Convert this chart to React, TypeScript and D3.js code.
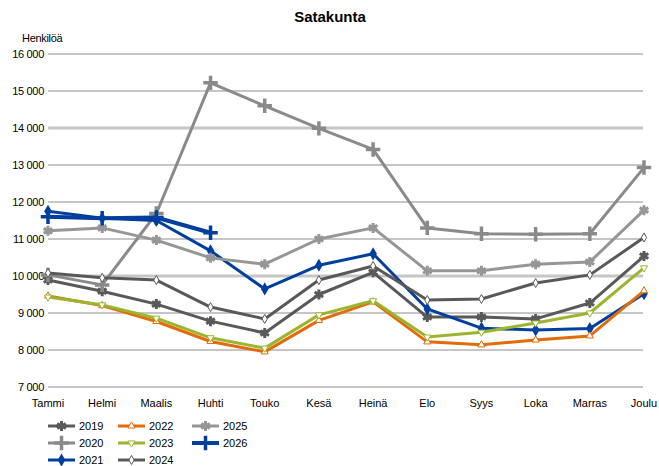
import React from "react";
import * as d3 from "d3";

const months = ["Tammi", "Helmi", "Maalis", "Huhti", "Touko", "Kesä", "Heinä", "Elo", "Syys", "Loka", "Marras", "Joulu"];
const yTicks = [7000, 8000, 9000, 10000, 11000, 12000, 13000, 14000, 15000, 16000];

const v2019 = [9890, 9590, 9240, 8780, 8460, 9500, 10100, 8890, 8890, 8840, 9270, 10540];
const v2020 = [10030, 9760, 11690, 15220, 14600, 13990, 13420, 11300, 11140, 11130, 11140, 12930];
const v2021 = [11750, 11560, 11500, 10680, 9650, 10290, 10600, 9110, 8590, 8540, 8580, 9520];
const v2022 = [9460, 9200, 8770, 8230, 7950, 8800, 9300, 8220, 8140, 8270, 8380, 9600];
const v2023 = [9430, 9220, 8860, 8330, 8050, 8950, 9330, 8350, 8480, 8730, 9000, 10220];
const v2024 = [10080, 9950, 9890, 9160, 8840, 9890, 10270, 9350, 9380, 9810, 10030, 11040];
const v2025 = [11220, 11300, 10970, 10490, 10320, 11000, 11300, 10140, 10140, 10320, 10380, 11780];
const v2026 = [11600, 11560, 11580, 11170];

type Series = {
  name: string;
  values: number[];
  color: string;
  width: number;
  marker: "asterisk" | "plus" | "diamond" | "triUp" | "triDown" | "diamondWhite";
};

const series: Series[] = [
  { name: "2019", values: v2019, color: "#595959", width: 3, marker: "asterisk" },
  { name: "2020", values: v2020, color: "#8a8a8a", width: 3, marker: "plus" },
  { name: "2021", values: v2021, color: "#003f9e", width: 3, marker: "diamond" },
  { name: "2022", values: v2022, color: "#e26b0a", width: 3, marker: "triUp" },
  { name: "2023", values: v2023, color: "#9bb52e", width: 3, marker: "triDown" },
  { name: "2024", values: v2024, color: "#595959", width: 3, marker: "diamondWhite" },
  { name: "2025", values: v2025, color: "#969696", width: 3, marker: "asterisk" },
  { name: "2026", values: v2026, color: "#003f9e", width: 4, marker: "plus" },
];

const legendCols = [["2019", "2020", "2021"], ["2022", "2023", "2024"], ["2025", "2026"]];

const x = d3.scalePoint<string>().domain(months).range([48, 644]);
const y = d3.scaleLinear().domain([7000, 16000]).range([387, 54]);
const fmt = (v: number) => d3.format(",")(v).replace(",", " ");

function Marker({ s, cx, cy }: { s: Series; cx: number; cy: number }) {
  const t = `translate(${cx},${cy})`;
  switch (s.marker) {
    case "asterisk":
      return <path transform={t} d={d3.symbol(d3.symbolAsterisk, 70)()!} stroke={s.color} strokeWidth={3} fill="none" />;
    case "plus":
      return <path transform={t} d={d3.symbol(d3.symbolPlus, 70)()!} stroke={s.color} strokeWidth={3.5} fill="none" />;
    case "diamond":
      return <path transform={t} d={d3.symbol(d3.symbolDiamond, 50)()!} fill={s.color} />;
    case "triUp":
      return <path transform={t} d={d3.symbol(d3.symbolTriangle, 22)()!} fill="#fff" stroke={s.color} strokeWidth={1} />;
    case "triDown":
      return <path transform={`${t} rotate(180)`} d={d3.symbol(d3.symbolTriangle, 22)()!} fill="#fff" stroke={s.color} strokeWidth={1} />;
    case "diamondWhite":
      return <path transform={t} d={d3.symbol(d3.symbolDiamond, 24)()!} fill="#fff" stroke={s.color} strokeWidth={1} />;
  }
}

export default function App() {
  const line = d3
    .line<number>()
    .x((_, i) => x(months[i])!)
    .y((d) => y(d));

  return (
    <svg
      width={659}
      height={466}
      style={{ position: "absolute", left: 0, top: 0, fontFamily: "Liberation Sans, Arial, sans-serif" }}
    >
      <rect width={659} height={466} fill="#fff" />
      <text x={330} y={22} textAnchor="middle" fontSize={15} fontWeight="bold" fill="#000">Satakunta</text>
      <text x={22} y={42} fontSize={11} fill="#000" letterSpacing={-0.3}>Henkilöä</text>

      {yTicks.map((t) => (
        <g key={t}>
          <line x1={48} x2={643} y1={y(t)} y2={y(t)} stroke="#c6c6c6" strokeWidth={t === 14000 || t === 10000 ? 3 : 2} />
          <text x={44} y={y(t) + 4} textAnchor="end" fontSize={11} fill="#000" letterSpacing={-0.3}>{fmt(t)}</text>
        </g>
      ))}

      {months.map((m) => (
        <text key={m} x={x(m)!} y={407} textAnchor="middle" fontSize={11} fill="#000">{m}</text>
      ))}

      {series.map((s) => (
        <g key={s.name}>
          <path d={line(s.values)!} fill="none" stroke={s.color} strokeWidth={s.width} strokeLinejoin="round" />
          {s.values.map((v, i) => (
            <Marker key={i} s={s} cx={x(months[i])!} cy={y(v)} />
          ))}
        </g>
      ))}

      {legendCols.map((col, ci) =>
        col.map((name, ri) => {
          const s = series.find((d) => d.name === name)!;
          const lx = [48, 118, 192][ci];
          const ly = 426 + ri * 17;
          return (
            <g key={name}>
              <line x1={lx} x2={lx + 27} y1={ly} y2={ly} stroke={s.color} strokeWidth={s.width} />
              <Marker s={s} cx={lx + 13.5} cy={ly} />
              <text x={lx + 31} y={ly + 4} fontSize={11} fill="#000">{name}</text>
            </g>
          );
        })
      )}
    </svg>
  );
}
